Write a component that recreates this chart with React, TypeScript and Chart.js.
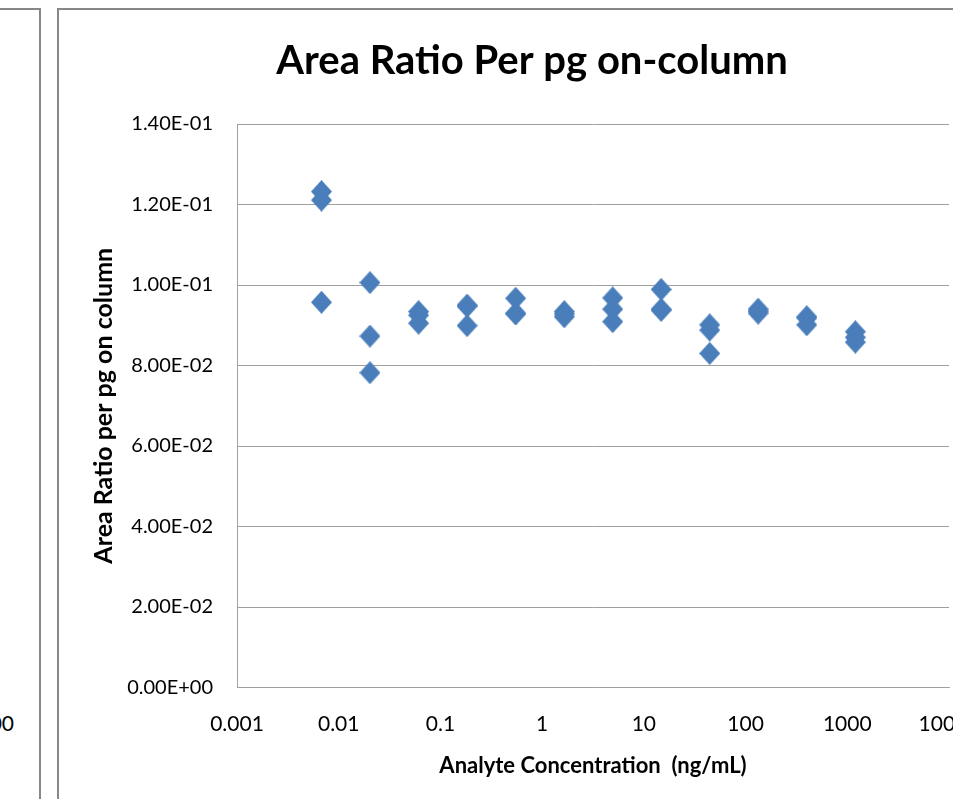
import { useEffect, useRef } from 'react';
import { Chart, registerables } from 'chart.js';

Chart.register(...registerables);

// Three-fold dilution series (ng/mL) and the three replicate injections at each level
const concentrations = [0.00677, 0.0203, 0.061, 0.183, 0.549, 1.65, 4.94, 14.8, 44.4, 133, 400, 1200];
const replicateA = [0.1232, 0.1006, 0.0934, 0.095, 0.0967, 0.0934, 0.0968, 0.0989, 0.0901, 0.094, 0.0921, 0.0884];
const replicateB = [0.1211, 0.0873, 0.0925, 0.0947, 0.093, 0.0928, 0.094, 0.094, 0.0888, 0.0935, 0.0918, 0.087];
const replicateC = [0.0957, 0.0782, 0.0905, 0.0899, 0.0928, 0.0921, 0.0909, 0.0937, 0.083, 0.093, 0.0901, 0.0858];

const xTickValues = [0.001, 0.01, 0.1, 1, 10, 100, 1000, 10000];
const xTickLabels = ['0.001', '0.01', '0.1', '1', '10', '100', '1000', '10000'];
const yTickLabels = ['0.00E+00', '2.00E-02', '4.00E-02', '6.00E-02', '8.00E-02', '1.00E-01', '1.20E-01', '1.40E-01'];

const FONT = 'Lato, "Open Sans", sans-serif';
const MARKER = '#4a7ebb';
const GRID = '#a0a0a0';
const FRAME = '#878787';

function makeDiamond(w: number, h: number, color: string) {
  const c = document.createElement('canvas');
  c.width = w;
  c.height = h;
  const g = c.getContext('2d')!;
  g.fillStyle = color;
  g.beginPath();
  g.moveTo(w / 2, 0);
  g.lineTo(w, h / 2);
  g.lineTo(w / 2, h);
  g.lineTo(0, h / 2);
  g.closePath();
  g.fill();
  return c;
}

export default function App() {
  const canvasRef = useRef<HTMLCanvasElement | null>(null);

  useEffect(() => {
    const canvas = canvasRef.current;
    if (!canvas) return;
    const diamond = makeDiamond(21, 23, MARKER);

    const points: { x: number; y: number }[] = [];
    concentrations.forEach((c, i) => {
      points.push({ x: c, y: replicateA[i] });
      points.push({ x: c, y: replicateB[i] });
      points.push({ x: c, y: replicateC[i] });
    });

    const chart = new Chart(canvas, {
      type: 'scatter',
      data: {
        datasets: [
          {
            label: 'Area Ratio per pg on column',
            data: points,
            pointStyle: diamond as any,
            pointRadius: 11,
            backgroundColor: MARKER,
            borderColor: MARKER,
          },
        ],
      },
      options: {
        animation: false,
        responsive: false,
        devicePixelRatio: 1,
        layout: { padding: { left: 56, right: 56, top: 0, bottom: 0 } },
        plugins: {
          legend: { display: false },
          tooltip: { enabled: false },
          title: {
            display: true,
            text: 'Area Ratio Per pg on-column',
            color: '#000',
            font: { family: FONT, size: 40, weight: 'bold' },
            padding: { top: 27, bottom: 39 },
          },
        },
        scales: {
          x: {
            type: 'logarithmic',
            min: 0.001,
            max: 10000,
            afterBuildTicks: (scale: any) => {
              scale.ticks = xTickValues.map((v) => ({ value: v }));
            },
            afterFit: (scale: any) => {
              scale.height = 111.5;
            },
            grid: { display: false, drawTicks: false },
            border: { display: true, color: GRID, width: 1 },
            ticks: {
              autoSkip: false,
              maxRotation: 0,
              padding: 24,
              color: '#000',
              font: { family: FONT, size: 21 },
              callback: (_v: any, i: number) => xTickLabels[i],
            },
            title: {
              display: true,
              text: 'Analyte Concentration  (ng/mL)',
              color: '#000',
              font: { family: FONT, size: 22, weight: 'bold' },
              padding: { top: 0, bottom: 19.8 },
            },
          },
          y: {
            min: 0,
            max: 0.14,
            afterFit: (scale: any) => {
              scale.width = 122;
            },
            grid: { color: GRID, lineWidth: 1, drawTicks: false },
            border: { display: true, color: GRID, width: 1 },
            ticks: {
              stepSize: 0.02,
              padding: 24,
              color: '#000',
              font: { family: FONT, size: 20 },
              callback: (_v: any, i: number) => yTickLabels[i],
            },
            title: {
              display: true,
              text: 'Area Ratio per pg on column',
              color: '#000',
              font: { family: FONT, size: 25, weight: 'bold' },
              padding: { top: -26, bottom: 0 },
            },
          },
        },
      } as any,
    });

    return () => chart.destroy();
  }, []);

  return (
    <div style={{ position: 'fixed', inset: 0, overflow: 'hidden', background: '#fff' }}>
      {/* neighbouring panel, mostly off to the left */}
      <div
        style={{
          position: 'absolute',
          left: -100,
          top: 8,
          width: 141,
          height: 900,
          boxSizing: 'border-box',
          border: `2px solid ${FRAME}`,
        }}
      />
      <div
        style={{
          position: 'absolute',
          left: -80,
          top: 711,
          width: 94,
          textAlign: 'right',
          font: `21px ${FONT}`,
          lineHeight: '24px',
          color: '#000',
          whiteSpace: 'nowrap',
        }}
      >
        10000
      </div>
      {/* chart panel */}
      <div
        style={{
          position: 'absolute',
          left: 57,
          top: 8,
          width: 990,
          height: 900,
          boxSizing: 'border-box',
          border: `2px solid ${FRAME}`,
        }}
      />
      <canvas
        ref={canvasRef}
        width={946}
        height={789}
        style={{ position: 'absolute', left: 59, top: 10, width: 946, height: 789 }}
      />
    </div>
  );
}
